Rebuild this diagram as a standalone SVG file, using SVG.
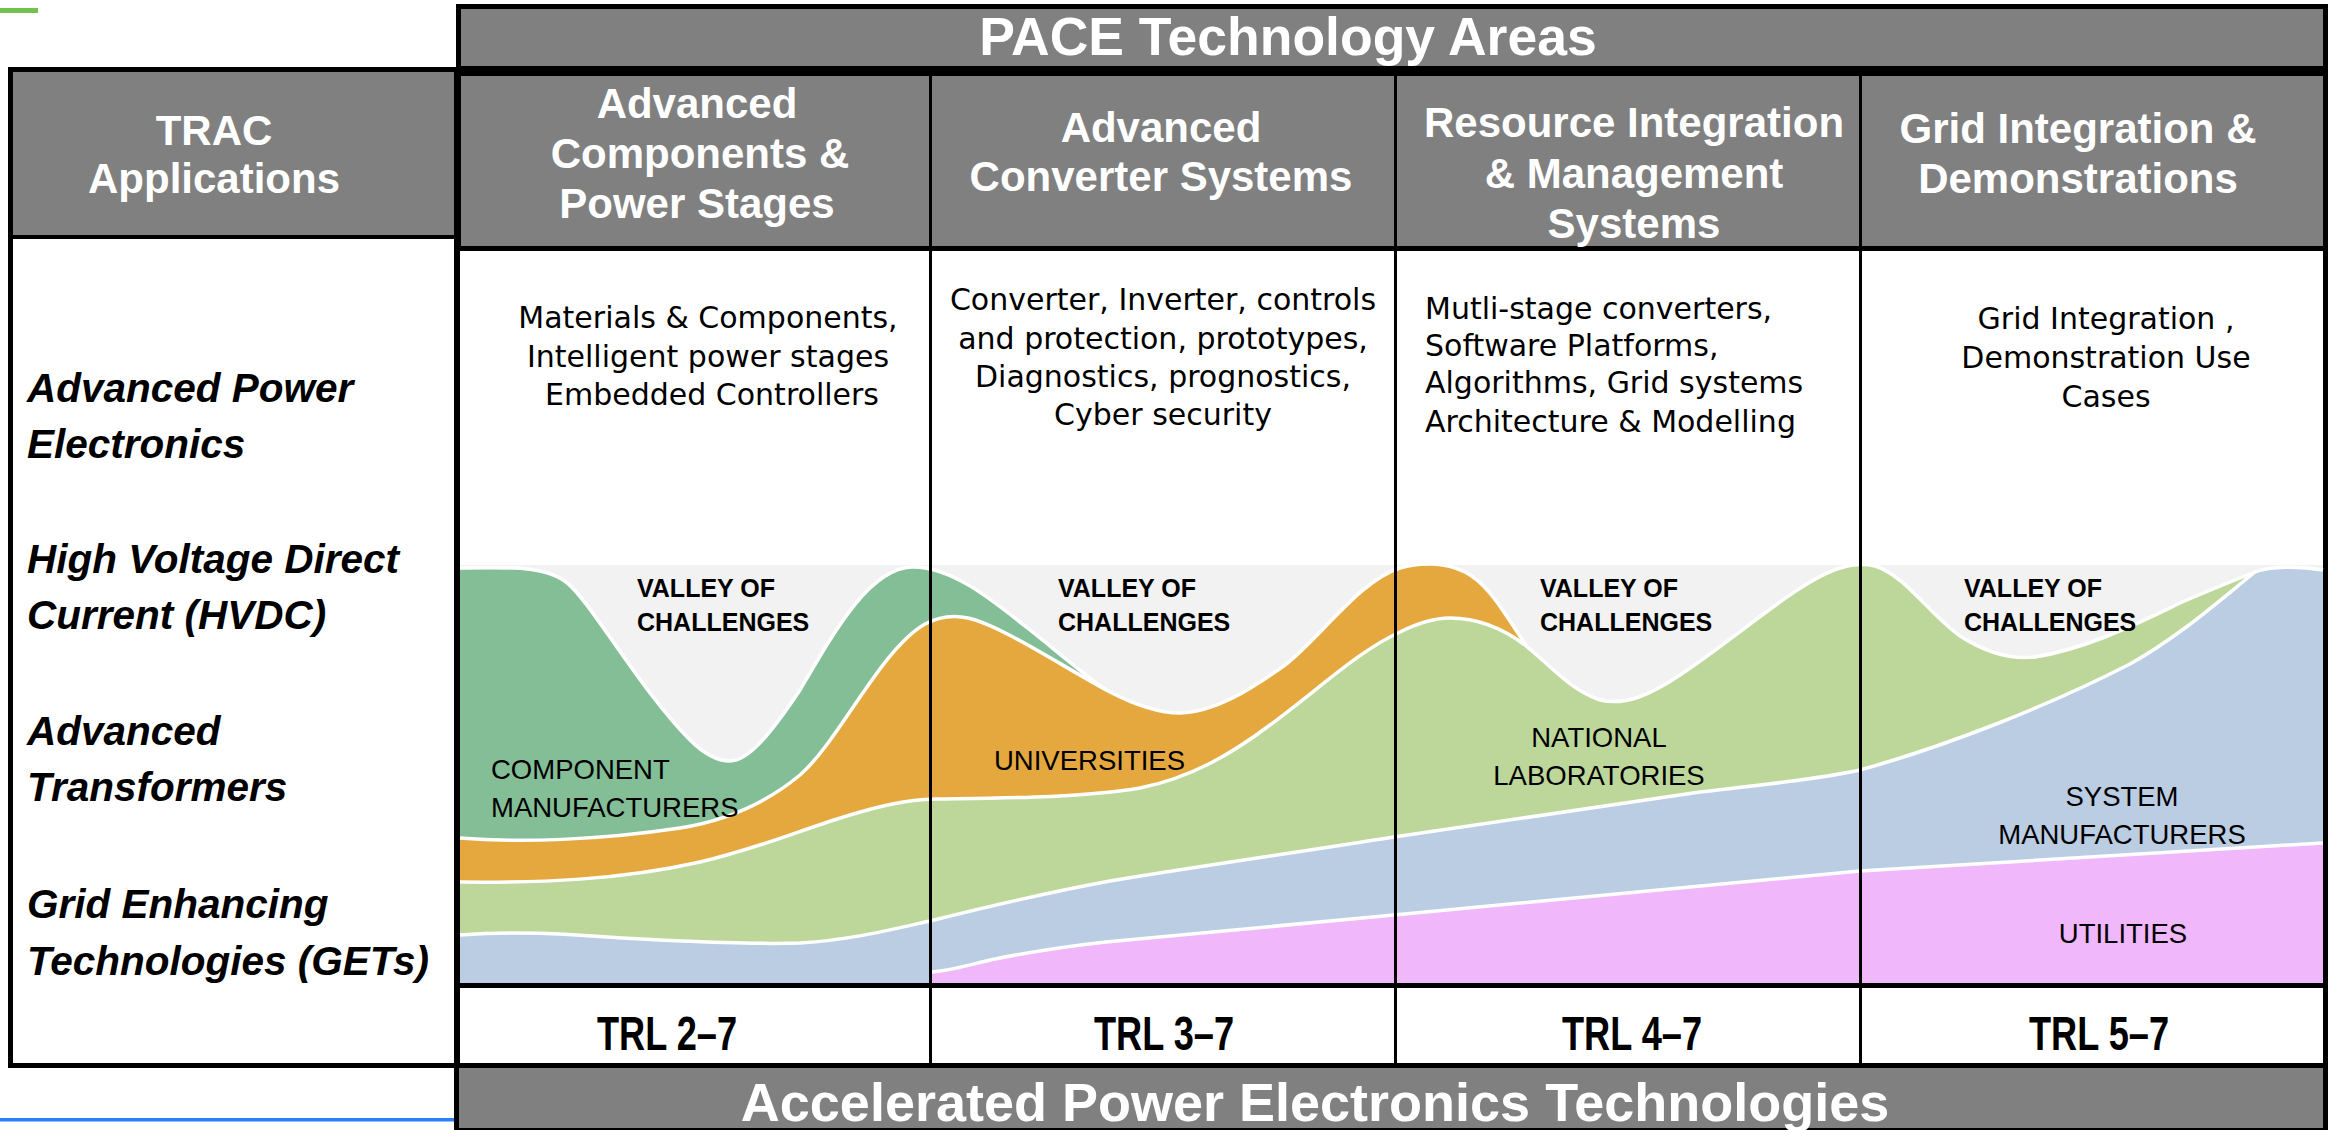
<svg xmlns="http://www.w3.org/2000/svg" width="2333" height="1130" viewBox="0 0 2333 1130">
<style>
.hdr{font-family:"Liberation Sans",Arial,sans-serif;font-weight:bold;fill:#fff;font-size:42px;text-anchor:middle}
.big{font-size:53.5px}
.body{font-family:"DejaVu Sans","Liberation Sans",sans-serif;font-size:30px;fill:#000}
.mid{text-anchor:middle}
.row{font-family:"Liberation Sans",Arial,sans-serif;font-weight:bold;font-style:italic;font-size:40.5px;fill:#000}
.val{font-family:"Liberation Sans",Arial,sans-serif;font-weight:bold;font-size:25px;fill:#000}
.cat{font-family:"Liberation Sans",Arial,sans-serif;font-size:27.5px;fill:#000}
.trl{font-family:"Liberation Sans",Arial,sans-serif;font-weight:bold;font-size:49px;fill:#000;text-anchor:middle}
.edge{fill:none;stroke:#fff;stroke-width:3.5}
.div{stroke:#000;stroke-width:3}
</style>

<rect x="0" y="8" width="38" height="5" fill="#74C24E"/>
<rect x="0" y="1118" width="455" height="3.5" fill="#2D7FF9"/>

<g id="trac-box">
  <rect x="8" y="67" width="453" height="1001" fill="#000"/>
  <rect x="13" y="72" width="441" height="163" fill="#808080"/>
  <rect x="13" y="239" width="441" height="824" fill="#fff"/>
  <text class="hdr" x="214" y="145">TRAC</text>
  <text class="hdr" x="214" y="193">Applications</text>
</g>

<g id="main-frame">
  <rect x="456" y="4" width="1872" height="247" fill="#000"/>
  <rect x="461" y="9" width="1862" height="57" fill="#808080"/>
  <rect x="461" y="76" width="1862" height="170" fill="#808080"/>
  <rect x="454" y="246" width="1874" height="822" fill="#000"/>
  <rect x="460" y="251" width="1863" height="732" fill="#fff"/>
  <rect x="460" y="988" width="1863" height="75" fill="#fff"/>
  <rect x="454" y="1063" width="1874" height="67" fill="#000"/>
  <rect x="459" y="1068" width="1864" height="60" fill="#808080"/>
</g>

<g id="pace-header">
  <text class="hdr big" x="1288" y="55">PACE  Technology Areas</text>
</g>

<g id="col-1-header">
  <text class="hdr" x="697" y="118">Advanced</text>
  <text class="hdr" x="700" y="168">Components &amp;</text>
  <text class="hdr" x="697" y="218">Power Stages</text>
</g>
<g id="col-2-header">
  <text class="hdr" x="1161" y="142">Advanced</text>
  <text class="hdr" x="1161" y="191">Converter Systems</text>
</g>
<g id="col-3-header">
  <text class="hdr" x="1634" y="137">Resource Integration</text>
  <text class="hdr" x="1634" y="188">&amp; Management</text>
  <text class="hdr" x="1634" y="238">Systems</text>
</g>
<g id="col-4-header">
  <text class="hdr" x="2078" y="143">Grid Integration &amp;</text>
  <text class="hdr" x="2078" y="193">Demonstrations</text>
</g>

<g id="col-1-body">
  <text class="body mid" x="708" y="328">Materials &amp; Components,</text>
  <text class="body mid" x="708" y="367">Intelligent power stages</text>
  <text class="body mid" x="712" y="405">Embedded Controllers</text>
</g>
<g id="col-2-body">
  <text class="body mid" x="1163" y="310">Converter, Inverter, controls</text>
  <text class="body mid" x="1163" y="349">and protection, prototypes,</text>
  <text class="body mid" x="1163" y="387">Diagnostics, prognostics,</text>
  <text class="body mid" x="1163" y="425">Cyber security</text>
</g>
<g id="col-3-body">
  <text class="body" x="1425" y="319">Mutli-stage converters,</text>
  <text class="body" x="1425" y="356">Software Platforms,</text>
  <text class="body" x="1425" y="393">Algorithms, Grid systems</text>
  <text class="body" x="1425" y="432">Architecture &amp; Modelling</text>
</g>
<g id="col-4-body">
  <text class="body mid" x="2106" y="329">Grid Integration ,</text>
  <text class="body mid" x="2106" y="368">Demonstration Use</text>
  <text class="body mid" x="2106" y="407">Cases</text>
</g>

<g id="row-labels">
  <text class="row" x="27" y="402">Advanced Power</text>
  <text class="row" x="27" y="458">Electronics</text>
  <text class="row" x="27" y="573">High Voltage Direct</text>
  <text class="row" x="27" y="629">Current (HVDC)</text>
  <text class="row" x="27" y="745">Advanced</text>
  <text class="row" x="27" y="801">Transformers</text>
  <text class="row" x="27" y="918">Grid Enhancing</text>
  <text class="row" x="27" y="975">Technologies (GETs)</text>
</g>

<g id="chart">
  <rect x="460" y="565" width="1863" height="418" fill="#F2F2F2"/>
  <g id="component-manufacturers">
    <path fill="#84BE97" d="M460,568 C510,567 545,566 566,582 C590,600 640,690 690,740 C705,755 718,761 730,761 C748,761 770,735 800,690 C835,630 870,568 912,567 C950,566 990,598 1030,630 C1065,658 1095,683 1115,697 L1115,983 L460,983 Z"/>
    <path class="edge" d="M460,568 C510,567 545,566 566,582 C590,600 640,690 690,740 C705,755 718,761 730,761 C748,761 770,735 800,690 C835,630 870,568 912,567 C950,566 990,598 1030,630 C1065,658 1095,683 1115,697"/>
  </g>
  <g id="universities">
    <path fill="#E5A83F" d="M460,838 C520,843 600,840 680,828 C730,820 770,800 800,775 C840,740 880,650 925,624 C940,616 955,615 968,618 C1000,625 1060,665 1110,692 C1135,705 1160,713 1180,713 C1215,712 1250,690 1285,665 C1320,638 1360,580 1400,568 C1420,562 1445,562 1465,572 C1490,585 1505,615 1526,645 L1526,983 L460,983 Z"/>
    <path class="edge" d="M460,838 C520,843 600,840 680,828 C730,820 770,800 800,775 C840,740 880,650 925,624 C940,616 955,615 968,618 C1000,625 1060,665 1110,692 C1135,705 1160,713 1180,713 C1215,712 1250,690 1285,665 C1320,638 1360,580 1400,568 C1420,562 1445,562 1465,572 C1490,585 1505,615 1526,645"/>
  </g>
  <g id="national-laboratories">
    <path fill="#BDD79A" d="M460,882 C540,883 620,880 700,862 C760,848 800,830 850,815 C880,806 905,800 935,799 C1000,798 1080,798 1140,788 C1190,778 1230,755 1270,725 C1320,688 1360,650 1400,632 C1420,622 1435,618 1450,618 C1480,618 1505,630 1525,645 C1550,665 1570,690 1600,700 C1625,706 1650,695 1680,675 C1740,635 1800,580 1840,568 C1850,565 1862,563 1875,566 C1905,575 1930,615 1960,636 C1985,652 2010,660 2035,657 C2080,650 2130,628 2180,603 C2210,590 2235,580 2255,572 L2255,983 L460,983 Z"/>
    <path class="edge" d="M460,882 C540,883 620,880 700,862 C760,848 800,830 850,815 C880,806 905,800 935,799 C1000,798 1080,798 1140,788 C1190,778 1230,755 1270,725 C1320,688 1360,650 1400,632 C1420,622 1435,618 1450,618 C1480,618 1505,630 1525,645 C1550,665 1570,690 1600,700 C1625,706 1650,695 1680,675 C1740,635 1800,580 1840,568 C1850,565 1862,563 1875,566 C1905,575 1930,615 1960,636 C1985,652 2010,660 2035,657 C2080,650 2130,628 2180,603 C2210,590 2235,580 2255,572"/>
  </g>
  <g id="system-manufacturers">
    <path fill="#BBCDE2" d="M460,935 C490,933 520,932 560,934 C650,940 740,945 800,943 C850,940 890,930 930,921 C990,906 1050,892 1110,881 C1200,866 1300,852 1394,837 C1500,822 1600,806 1700,792 C1760,785 1820,779 1860,770 C1950,745 2050,705 2130,664 C2180,636 2220,600 2255,572 C2270,566 2300,566 2323,570 L2323,983 L460,983 Z"/>
    <path class="edge" d="M460,935 C490,933 520,932 560,934 C650,940 740,945 800,943 C850,940 890,930 930,921 C990,906 1050,892 1110,881 C1200,866 1300,852 1394,837 C1500,822 1600,806 1700,792 C1760,785 1820,779 1860,770 C1950,745 2050,705 2130,664 C2180,636 2220,600 2255,572 C2270,566 2300,566 2323,570"/>
  </g>
  <g id="utilities">
    <path fill="#F0B7FB" d="M932,983 L932,972 C955,970 975,963 995,959 C1030,952 1070,946 1106,942 L1394,915 L1860,871 L2323,843 L2323,983 Z"/>
    <path class="edge" d="M932,972 C955,970 975,963 995,959 C1030,952 1070,946 1106,942 L1394,915 L1860,871 L2323,843"/>
  </g>
  <g id="valley-labels">
    <text class="val" x="637" y="597">VALLEY OF</text>
    <text class="val" x="637" y="631">CHALLENGES</text>
    <text class="val" x="1058" y="597">VALLEY OF</text>
    <text class="val" x="1058" y="631">CHALLENGES</text>
    <text class="val" x="1540" y="597">VALLEY OF</text>
    <text class="val" x="1540" y="631">CHALLENGES</text>
    <text class="val" x="1964" y="597">VALLEY OF</text>
    <text class="val" x="1964" y="631">CHALLENGES</text>
  </g>
  <g id="category-labels">
    <text class="cat" x="491" y="779">COMPONENT</text>
    <text class="cat" x="491" y="817">MANUFACTURERS</text>
    <text class="cat" x="994" y="770">UNIVERSITIES</text>
    <text class="cat mid" x="1599" y="747">NATIONAL</text>
    <text class="cat mid" x="1599" y="785">LABORATORIES</text>
    <text class="cat mid" x="2122" y="806">SYSTEM</text>
    <text class="cat mid" x="2122" y="844">MANUFACTURERS</text>
    <text class="cat mid" x="2123" y="943">UTILITIES</text>
  </g>
</g>

<g id="connectors">
  <line class="div" x1="930.5" y1="76" x2="930.5" y2="1063"/>
  <line class="div" x1="1395.5" y1="76" x2="1395.5" y2="1063"/>
  <line class="div" x1="1860.5" y1="76" x2="1860.5" y2="1063"/>
</g>

<g id="trl-row">
  <text class="trl" x="667" y="1050" textLength="140" lengthAdjust="spacingAndGlyphs">TRL 2–7</text>
  <text class="trl" x="1164" y="1050" textLength="140" lengthAdjust="spacingAndGlyphs">TRL 3–7</text>
  <text class="trl" x="1632" y="1050" textLength="140" lengthAdjust="spacingAndGlyphs">TRL 4–7</text>
  <text class="trl" x="2099" y="1050" textLength="140" lengthAdjust="spacingAndGlyphs">TRL 5–7</text>
</g>

<g id="footer">
  <text class="hdr big" x="1315" y="1121" style="font-size:54px">Accelerated Power Electronics Technologies</text>
</g>
</svg>
